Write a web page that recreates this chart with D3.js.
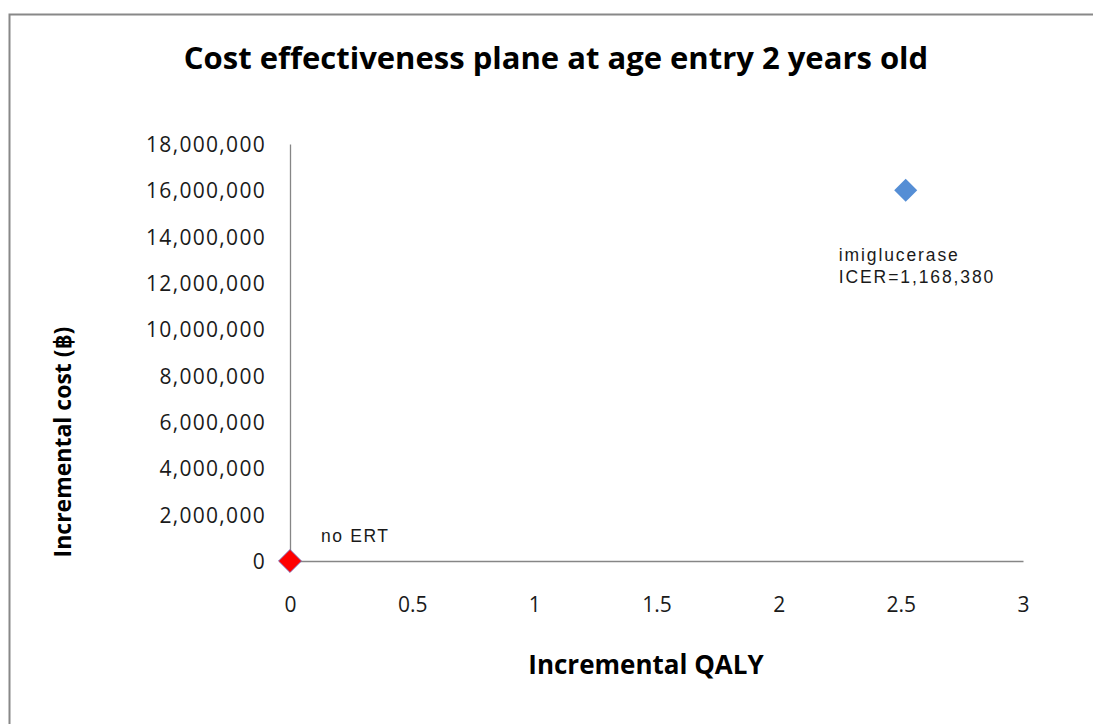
<!DOCTYPE html>
<html><head><meta charset="utf-8">
<script src="https://cdn.jsdelivr.net/npm/d3@7"></script>
<style>body{margin:0;background:#fff}svg{display:block}</style>
</head><body>
<script>
const title = "Cost effectiveness plane at age entry 2 years old";
const xTitle = "Incremental QALY";
const yTitle = "Incremental cost (฿)";
const pointNames = ["no ERT", "imiglucerase"];
const qalyValues = [0, 2.52];
const costValues = [0, 16000000];
const pointColors = ["#ff0000", "#558ed5"];
const xTicks = [0, 0.5, 1, 1.5, 2, 2.5, 3];
const yTicks = [0, 2000000, 4000000, 6000000, 8000000, 10000000, 12000000, 14000000, 16000000, 18000000];
const annotations = [["no ERT"], ["imiglucerase", "ICER=1,168,380"]];

const W = 1093, H = 724;
const svg = d3.select("body").append("svg").attr("width", W).attr("height", H);
svg.append("rect").attr("x", 9.5).attr("y", 14.5).attr("width", W + 20).attr("height", H + 20)
  .attr("fill", "#fff").attr("stroke", "#888").attr("stroke-width", 2);

const x = d3.scaleLinear().domain([0, 3]).range([290, 1023]);
const y = d3.scaleLinear().domain([0, 18000000]).range([561, 144]);

const fmt = d3.format(",");
const tickFont = "'Open Sans', sans-serif";

const xAxis = svg.append("g").attr("transform", "translate(0,561)")
  .call(d3.axisBottom(x).tickValues(xTicks).tickSize(0).tickPadding(51).tickFormat(d => d3.format("")(d)));
const yAxis = svg.append("g").attr("transform", "translate(290,0)")
  .call(d3.axisLeft(y).tickValues(yTicks).tickSize(0).tickPadding(24).tickFormat(fmt));
[xAxis, yAxis].forEach(g => {
  g.select(".domain").attr("stroke", "#868686").attr("stroke-width", 1.3);
  g.selectAll("text").attr("font-family", tickFont).attr("font-size", 21).attr("fill", "#1a1a1a");
});
xAxis.selectAll("text").attr("dy", "0");
yAxis.selectAll("text").attr("dy", "0.36em").attr("letter-spacing", 1.3);

svg.append("text").attr("x", 556).attr("y", 69).attr("text-anchor", "middle")
  .attr("font-family", tickFont).attr("font-weight", "bold").attr("font-size", 31).text(title);
svg.append("text").attr("x", 646).attr("y", 674).attr("text-anchor", "middle")
  .attr("font-family", tickFont).attr("font-weight", "bold").attr("font-size", 26).text(xTitle);
svg.append("text").attr("transform", "translate(71,442) rotate(-90)").attr("text-anchor", "middle")
  .attr("font-family", tickFont).attr("font-weight", "bold").attr("font-size", 23).text(yTitle);

const sym = d3.symbol().type(d3.symbolSquare).size(265);
svg.selectAll("path.pt").data(qalyValues).enter().append("path").attr("class", "pt")
  .attr("d", sym)
  .attr("transform", (d, i) => `translate(${x(d)},${y(costValues[i])}) rotate(45)`)
  .attr("fill", (d, i) => pointColors[i])
  .attr("stroke", (d, i) => i === 0 ? "#7070c0" : "none").attr("stroke-width", 0.8);

const labFont = "'Liberation Sans', Arial, sans-serif";
const labOffsets = [[31, -19], [-67, 71]];
const labSpacing = [1.6, 1.9];
annotations.forEach((lines, i) => {
  const t = svg.append("text").attr("font-family", labFont).attr("font-size", 17.5).attr("fill", "#1a1a1a")
    .attr("letter-spacing", labSpacing[i])
    .attr("x", x(qalyValues[i]) + labOffsets[i][0]).attr("y", y(costValues[i]) + labOffsets[i][1]);
  lines.forEach((l, j) => t.append("tspan").attr("x", x(qalyValues[i]) + labOffsets[i][0]).attr("dy", j ? 22 : 0).text(l));
});
</script>
</body></html>
